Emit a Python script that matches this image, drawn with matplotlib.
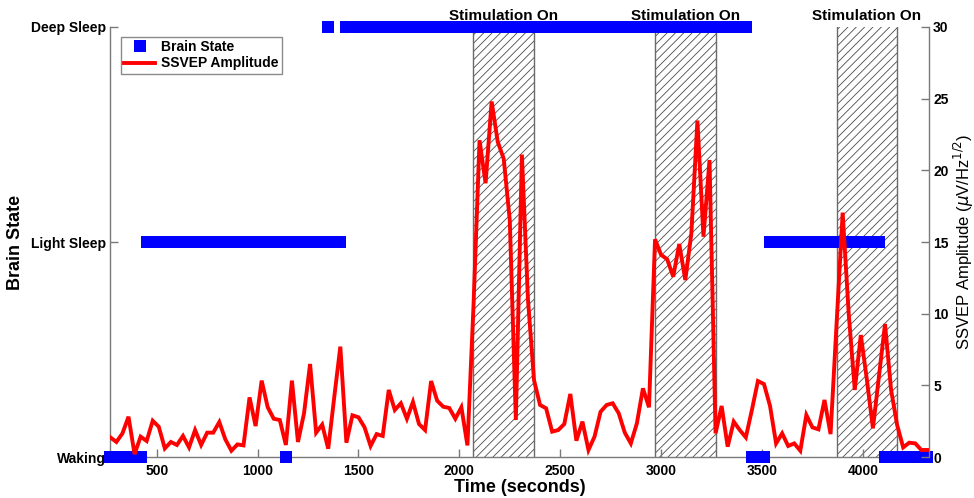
import numpy as np
import matplotlib
matplotlib.use("Agg")
import matplotlib.pyplot as plt
from matplotlib.lines import Line2D

plt.rcParams['font.family'] = ['Liberation Sans', 'DejaVu Sans']
plt.rcParams['hatch.linewidth'] = 0.6

# Sampling: one epoch every 30 s
time_start, time_step = 270, 30

# SSVEP amplitude per epoch (uV/Hz^1/2)
ssvep_amplitude = [
    1.37, 1.05, 1.65, 2.81, 0.20, 1.42, 1.12, 2.53, 2.11, 0.60,
    1.05, 0.84, 1.47, 0.67, 1.88, 0.84, 1.70, 1.70, 2.44, 1.23,
    0.44, 0.88, 0.81, 4.16, 2.16, 5.33, 3.47, 2.67, 2.58, 0.84,
    5.33, 1.05, 3.05, 6.49, 1.70, 2.26, 0.58, 4.20, 7.70, 1.00,
    2.91, 2.77, 2.07, 0.77, 1.60, 1.47, 4.68, 3.28, 3.75, 2.67,
    3.84, 2.30, 1.88, 5.30, 3.93, 3.51, 3.42, 2.67, 3.47, 0.81,
    10.5, 22.1, 19.1, 24.8, 22.0, 20.8, 16.5, 2.58, 21.1, 11.0,
    5.37, 3.63, 3.40, 1.77, 1.88, 2.30, 4.40, 1.14, 2.47, 0.49,
    1.42, 3.16, 3.63, 3.75, 3.05, 1.70, 0.95, 2.35, 4.79, 3.47,
    15.19, 14.1, 13.8, 12.58, 14.86, 12.35, 15.6, 23.47, 15.37, 20.72,
    1.65, 3.56, 0.72, 2.47, 1.88, 1.37, 3.28, 5.30, 5.09, 3.56,
    0.95, 1.65, 0.77, 0.95, 0.44, 2.93, 2.07, 1.93, 3.98, 1.60,
    9.30, 17.05, 10.0, 4.68, 8.51, 5.40, 2.00, 5.65, 9.28, 4.68,
    2.23, 0.67, 1.00, 0.95, 0.49, 0.49,
]

# Scored brain state per epoch: W = waking, L = light sleep, D = deep sleep
brain_state = list(
    "WWWWWWLLLLLLLLLLLLLL"
    "LLLLLLLLLWLLLLLLDLLD"
    "DDDDDDDDDDDDDDDDDDDD"
    "DDDDDDDDDDDDDDDDDDDD"
    "DDDDDDDDDDDDDDDDDDDD"
    "DDDDDDWWWLLLLLLLLLLL"
    "LLLLLLLLWWWWWWWW"
)
state_levels = {"W": 1, "L": 2, "D": 3}
state_names = ["Waking", "Light Sleep", "Deep Sleep"]

# Stimulation windows (start, seconds) and their length
stim_starts = [2070, 2970, 3870]
stim_length = 300

x_ticks = [500, 1000, 1500, 2000, 2500, 3000, 3500, 4000]
amp_ticks = [0, 5, 10, 15, 20, 25, 30]

times = time_start + time_step * np.arange(len(ssvep_amplitude))
state_vals = [state_levels[s] for s in brain_state]

spine_col = '#7a7a7a'
fig = plt.figure(figsize=(9.74, 4.98), dpi=100)
ax1 = fig.add_axes([0.1133, 0.0823, 0.9538 - 0.1133, 0.9458 - 0.0823])
ax2 = ax1.twinx()

# hatched stimulation windows
for s in stim_starts:
    ax1.axvspan(s, s + stim_length, facecolor='white', edgecolor='#4a4a4a',
                hatch='////', linewidth=0, zorder=1)
    ax1.axvline(s, color='#6a6a6a', lw=1.0, zorder=1.5)
    ax1.axvline(s + stim_length, color='#6a6a6a', lw=1.0, zorder=1.5)
    ax2.annotate('Stimulation On', xy=(s + stim_length / 2, 1.0),
                 xycoords=ax2.get_xaxis_transform(), xytext=(0, 3),
                 textcoords='offset points', ha='center', va='bottom',
                 fontsize=11, fontweight='bold', zorder=10,
                 annotation_clip=False)

ax1.plot(times, state_vals, linestyle='none', marker='s', markersize=8.2,
         markerfacecolor='#0000ff', markeredgewidth=0, color='#0000ff',
         clip_on=False, zorder=3)

ax2.plot(times, ssvep_amplitude, color='#ff0000', lw=2.8, zorder=4,
         solid_joinstyle='miter')

ax1.set_xlim(270, 4328)
ax1.set_ylim(1, 3)
ax2.set_ylim(0, 30)
ax1.set_xticks(x_ticks)
ax1.set_xticklabels([str(v) for v in x_ticks])
ax1.set_yticks([1, 2, 3])
ax1.set_yticklabels(state_names)
ax2.set_yticks(amp_ticks)
ax2.set_yticklabels([str(v) for v in amp_ticks])

for ax in (ax1, ax2):
    ax.spines['top'].set_visible(False)
    for sp in ax.spines.values():
        sp.set_color(spine_col)
        sp.set_linewidth(1.0)
    ax.tick_params(direction='in', length=6, width=1.0, color=spine_col,
                   labelsize=10)
    for lab in ax.get_xticklabels() + ax.get_yticklabels():
        lab.set_fontweight('bold')
ax1.spines['right'].set_visible(False)
ax2.spines['left'].set_visible(False)
ax2.spines['bottom'].set_visible(False)
ax1.tick_params(axis='x', pad=5)
ax1.tick_params(axis='y', pad=3)
ax2.tick_params(axis='y', pad=3)

ax1.set_xlabel('Time (seconds)', fontsize=13, fontweight='bold', labelpad=1)
ax1.set_ylabel('Brain State', fontsize=13, fontweight='bold', labelpad=5)
ax2.set_ylabel(r'SSVEP Amplitude ($\mu$V/Hz$^{1/2}$)', fontsize=12,
               labelpad=2)

handles = [
    Line2D([], [], linestyle='none', marker='s', markersize=8.2,
           markerfacecolor='#0000ff', markeredgewidth=0),
    Line2D([], [], color='#ff0000', lw=2.8),
]
leg = ax2.legend(handles, ['Brain State', 'SSVEP Amplitude'],
                 loc='upper left', bbox_to_anchor=(0.013, 0.977),
                 fancybox=False, framealpha=1, edgecolor='#8a8a8a',
                 prop={'weight': 'bold', 'size': 10}, handlelength=2.2,
                 handletextpad=0.4, borderpad=0.25, labelspacing=0.15,
                 borderaxespad=0)
leg.get_frame().set_linewidth(1.0)

fig.savefig('out.png', dpi=100)
